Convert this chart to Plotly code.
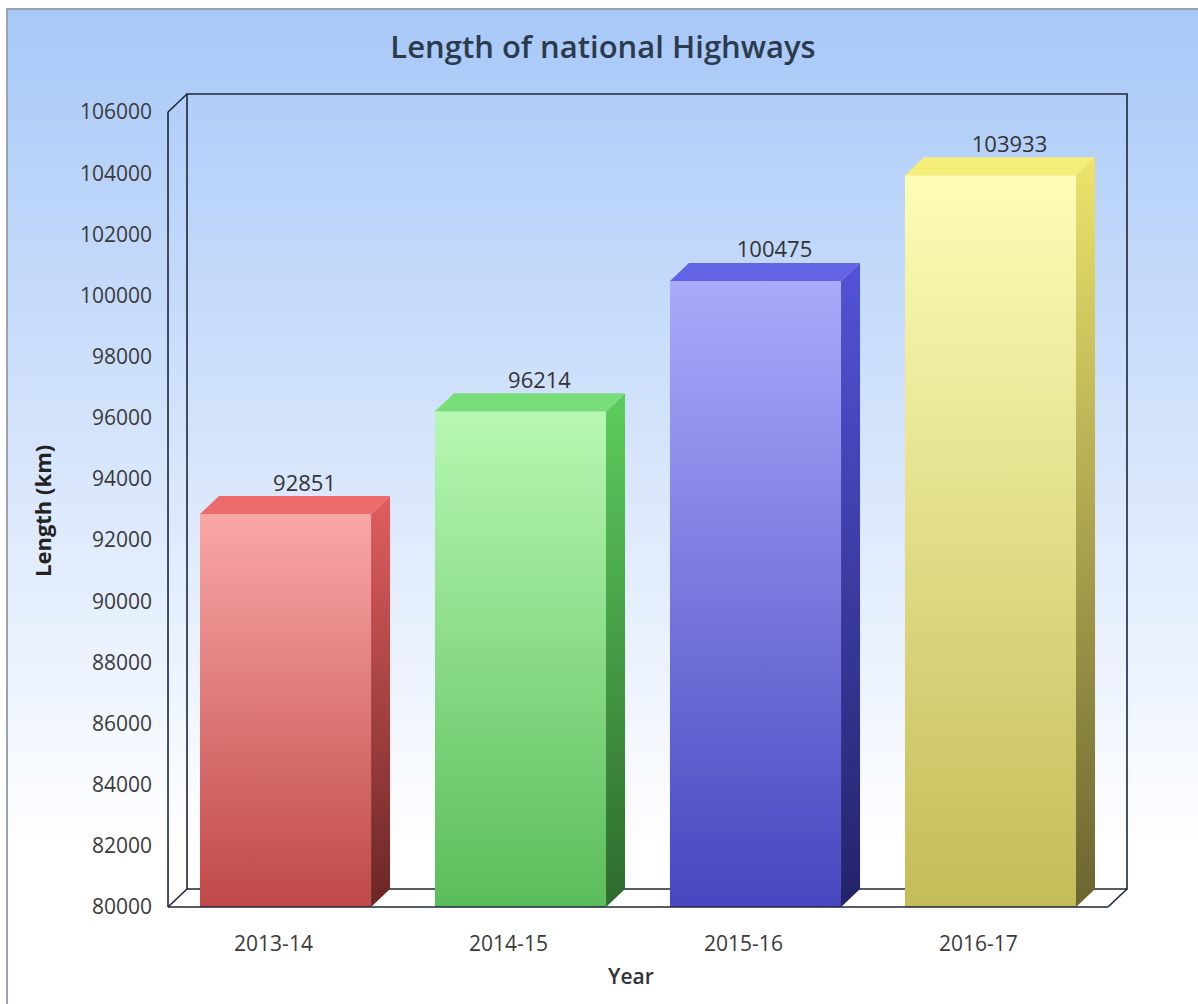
import plotly.graph_objects as go

# ---------------- data ----------------
categories = ["2013-14", "2014-15", "2015-16", "2016-17"]
lengths = [92851, 96214, 100475, 103933]
y_tick_values = list(range(80000, 106001, 2000))

chart_title = "Length of national Highways"
x_title = "Year"
y_title = "Length (km)"

# ---------------- styles ----------------
front_top = ["#faa7a7", "#b7f8b3", "#aaaafb", "#fdfdb8"]
front_bottom = ["#c04848", "#5abd5a", "#4646c0", "#c4bc58"]
side_top = ["#e05e5e", "#5dcd5d", "#5353d8", "#ece46c"]
side_bottom = ["#6a2626", "#2d6a2d", "#23236a", "#6a6430"]
top_face = ["#ee6b6b", "#79de79", "#6363e5", "#f5ef7a"]

W, H = 1198, 1004
Y_MIN, Y_MAX = 80000, 106000
BAR_W = 0.728          # bar width in category units
DX = 0.0809            # 3D depth (category units)
DY = 589               # 3D depth (value units)
PADX = 0.0128
PADY = 98
M_L, M_R, M_T, M_B = 165, 68, 91, 94
EDGE = "#1d2638"


def mix(c1, c2, t):
    a = [int(c1[i:i + 2], 16) for i in (1, 3, 5)]
    b = [int(c2[i:i + 2], 16) for i in (1, 3, 5)]
    return "#%02x%02x%02x" % tuple(round(a[k] + (b[k] - a[k]) * t) for k in range(3))


def px_x(px):
    return (px - M_L) / (W - M_L - M_R)


def px_y(py):
    return (H - M_B - py) / (H - M_T - M_B)


fig = go.Figure()

# front faces as real bars (starting at the axis floor)
fig.add_trace(go.Bar(
    x=list(range(len(categories))), y=[v - Y_MIN for v in lengths], base=Y_MIN, width=BAR_W,
    marker=dict(color=[mix(t, b, 0.5) for t, b in zip(front_top, front_bottom)], line=dict(width=0)),
    hoverinfo="skip", showlegend=False,
))

# 3D faces with gradients, derived from the data
for i, v in enumerate(lengths):
    xl, xr = i - BAR_W / 2, i + BAR_W / 2
    fig.add_trace(go.Scatter(
        x=[xl, xl, xr, xr, xl], y=[Y_MIN, v, v, Y_MIN, Y_MIN],
        mode="lines", line=dict(width=0), fill="toself",
        fillgradient=dict(type="vertical", start=Y_MIN, stop=v,
                          colorscale=[[0, front_bottom[i]], [1, front_top[i]]]),
        hoverinfo="skip", showlegend=False,
    ))
    fig.add_trace(go.Scatter(
        x=[xr, xr + DX, xr + DX, xr, xr], y=[Y_MIN, Y_MIN + DY, v + DY, v, Y_MIN],
        mode="lines", line=dict(width=0), fill="toself",
        fillgradient=dict(type="vertical", start=Y_MIN, stop=v + DY,
                          colorscale=[[0, side_bottom[i]], [1, side_top[i]]]),
        hoverinfo="skip", showlegend=False,
    ))
    fig.add_trace(go.Scatter(
        x=[xl, xl + DX, xr + DX, xr, xl], y=[v, v + DY, v + DY, v, v],
        mode="lines", line=dict(width=0), fill="toself", fillcolor=top_face[i],
        hoverinfo="skip", showlegend=False,
    ))

# value labels
fig.add_trace(go.Scatter(
    x=[i + DX for i in range(len(lengths))], y=[v + DY for v in lengths],
    text=[str(v) for v in lengths], mode="text", textposition="top center",
    textfont=dict(family="Open Sans", size=22, color="#333333"),
    hoverinfo="skip", showlegend=False,
))

shapes = []
g_top, g_bot = 9, 850
n = 90
for k in range(n):
    y0 = g_top + (g_bot - g_top) * k / n
    y1 = g_top + (g_bot - g_top) * (k + 1) / n + 0.6
    shapes.append(dict(type="rect", xref="paper", yref="paper",
                       x0=px_x(7), x1=px_x(W + 5), y0=px_y(y1), y1=px_y(y0),
                       fillcolor=mix("#a8c8f8", "#ffffff", (k + 0.5) / n),
                       line=dict(width=0), layer="below"))
shapes.append(dict(type="rect", xref="paper", yref="paper",
                   x0=px_x(7), x1=px_x(W + 5), y0=px_y(H + 5), y1=px_y(9),
                   line=dict(color="#9aa3ad", width=2), fillcolor="rgba(0,0,0,0)", layer="below"))

XL, XR = -0.5, len(categories) - 0.5
shapes.append(dict(type="path", xref="x", yref="y", layer="below",
                   path=f"M{XL},{Y_MIN} L{XR},{Y_MIN} L{XR + DX},{Y_MIN + DY} L{XL + DX},{Y_MIN + DY} Z",
                   fillcolor="#ffffff", line=dict(width=0)))
shapes.append(dict(type="rect", xref="x", yref="y", layer="below",
                   x0=XL + DX, x1=XR + DX, y0=Y_MIN + DY, y1=Y_MAX + DY,
                   line=dict(color=EDGE, width=1.6), fillcolor="rgba(0,0,0,0)"))
shapes.append(dict(type="line", xref="x", yref="y", layer="below",
                   x0=XL, y0=Y_MIN, x1=XL + DX, y1=Y_MIN + DY, line=dict(color=EDGE, width=1.6)))
shapes.append(dict(type="line", xref="x", yref="y", layer="above",
                   x0=XL, y0=Y_MIN, x1=XR, y1=Y_MIN, line=dict(color=EDGE, width=1.6)))
shapes.append(dict(type="line", xref="x", yref="y", layer="above",
                   x0=XR, y0=Y_MIN, x1=XR + DX, y1=Y_MIN + DY, line=dict(color=EDGE, width=1.6)))
shapes.append(dict(type="line", xref="x", yref="y", layer="above",
                   x0=XL, y0=Y_MIN, x1=XL, y1=Y_MAX, line=dict(color=EDGE, width=1.6)))
shapes.append(dict(type="line", xref="x", yref="y", layer="above",
                   x0=XL, y0=Y_MAX, x1=XL + DX, y1=Y_MAX + DY, line=dict(color=EDGE, width=1.6)))

annotations = [
    dict(text=y_title, xref="paper", yref="paper", x=px_x(42), y=px_y(511),
         textangle=-90, showarrow=False, xanchor="center", yanchor="middle",
         font=dict(family="Open Sans", size=22, color="#222222", weight=700)),
    dict(text=x_title, xref="paper", yref="paper", x=px_x(631), y=px_y(976),
         showarrow=False, xanchor="center", yanchor="middle",
         font=dict(family="Open Sans", size=21, color="#333333", weight=600)),
]

fig.update_layout(
    width=W, height=H,
    margin=dict(l=M_L, r=M_R, t=M_T, b=M_B, pad=0),
    paper_bgcolor="#ffffff", plot_bgcolor="rgba(0,0,0,0)",
    showlegend=False,
    title=dict(text=chart_title, x=603 / W, xanchor="center", xref="container",
               y=1 - 47 / H, yanchor="middle", yref="container",
               font=dict(family="Open Sans", size=31, color="#2c3a4e", weight=600)),
    xaxis=dict(type="linear", range=[XL - PADX, XR + DX + PADX],
               tickvals=list(range(len(categories))), ticktext=categories,
               showgrid=False, zeroline=False, showline=False, ticks="",
               ticklabelstandoff=19, ticklabelshift=-12,
               tickfont=dict(family="Open Sans", size=21, color="#3a3a3a")),
    yaxis=dict(range=[Y_MIN - PADY, Y_MAX + DY + PADY], tickvals=y_tick_values,
               tickformat="d", showgrid=False, zeroline=False, showline=False, ticks="",
               ticklabelstandoff=12,
               tickfont=dict(family="Open Sans", size=21, color="#3a3a3a")),
    shapes=shapes, annotations=annotations,
    bargap=0,
)

fig.write_html("out.html")
